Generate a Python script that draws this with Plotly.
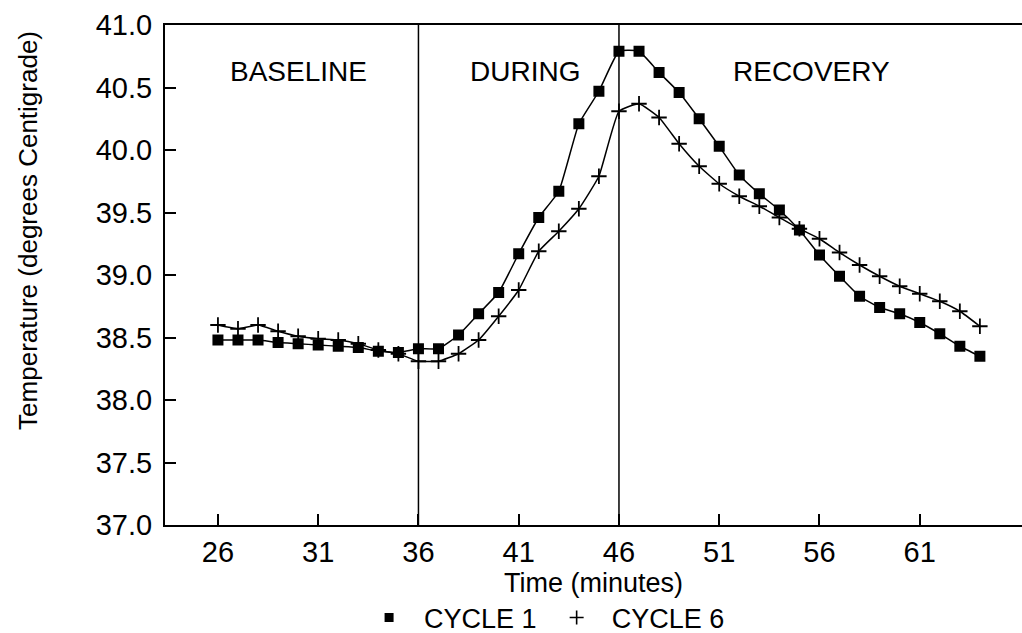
import plotly.graph_objects as go

minutes = list(range(26, 65))
cycle1 = [38.48, 38.48, 38.48, 38.46, 38.45, 38.44, 38.43, 38.42, 38.39, 38.38,
          38.41, 38.41, 38.52, 38.69, 38.86, 39.17, 39.46, 39.67, 40.21, 40.47,
          40.79, 40.79, 40.62, 40.46, 40.25, 40.03, 39.80, 39.65, 39.52, 39.36,
          39.16, 38.99, 38.83, 38.74, 38.69, 38.62, 38.53, 38.43, 38.35]
cycle6 = [38.60, 38.57, 38.60, 38.55, 38.51, 38.49, 38.48, 38.45, 38.40, 38.37,
          38.31, 38.31, 38.37, 38.48, 38.67, 38.88, 39.19, 39.35, 39.53, 39.79,
          40.31, 40.37, 40.26, 40.05, 39.87, 39.73, 39.63, 39.55, 39.46, 39.37,
          39.29, 39.18, 39.08, 38.99, 38.91, 38.85, 38.79, 38.71, 38.59]
phase_bounds = [36, 46]
phase_labels = ["BASELINE", "DURING", "RECOVERY"]
phase_label_x = [30.0, 41.3, 55.6]
x_ticks = [26, 31, 36, 41, 46, 51, 56, 61]
y_ticks = [37.0, 37.5, 38.0, 38.5, 39.0, 39.5, 40.0, 40.5, 41.0]

FONT = "Liberation Sans, Arial, sans-serif"
fig = go.Figure()
fig.add_trace(go.Scatter(x=minutes, y=cycle1, mode="lines+markers", showlegend=False,
                         line=dict(color="black", width=1.5, shape="spline", smoothing=0.4),
                         marker=dict(symbol="square", size=11, color="black")))
fig.add_trace(go.Scatter(x=minutes, y=cycle6, mode="lines+markers", showlegend=False,
                         line=dict(color="black", width=1.5, shape="spline", smoothing=0.4),
                         marker=dict(symbol="cross-thin-open", size=11, color="black",
                                     line=dict(color="black", width=1.8))))
fig.add_trace(go.Scatter(x=[None], y=[None], mode="markers", name="CYCLE 1",
                         marker=dict(symbol="square", size=9, color="black")))
fig.add_trace(go.Scatter(x=[None], y=[None], mode="markers", name="CYCLE 6",
                         marker=dict(symbol="cross-thin-open", size=10, color="black",
                                     line=dict(color="black", width=1.6))))

for b in phase_bounds:
    fig.add_shape(type="line", x0=b, x1=b, y0=37, y1=41, xref="x", yref="y",
                  line=dict(color="black", width=1.5))

for lab, lx in zip(phase_labels, phase_label_x):
    fig.add_annotation(x=lx, y=40.63, xref="x", yref="y", text=lab, showarrow=False,
                       font=dict(size=28, color="black", family=FONT))

fig.add_annotation(x=-0.16, y=0.59, xref="paper", yref="paper", xanchor="center",
                   yanchor="middle", text="Temperature (degrees Centigrade)",
                   textangle=-90, showarrow=False,
                   font=dict(size=26, color="black", family=FONT))

fig.update_layout(
    width=1022, height=633,
    margin=dict(l=165, r=0, t=25, b=108, autoexpand=False),
    paper_bgcolor="white", plot_bgcolor="white",
    font=dict(family=FONT, size=27, color="black"),
    legend=dict(orientation="h", x=0.44, xanchor="center", y=-0.186, yanchor="middle",
                font=dict(size=27), itemwidth=60, tracegroupgap=0,
                bgcolor="rgba(0,0,0,0)"),
    xaxis=dict(range=[23.36, 66.1], tickvals=x_ticks, ticks="inside", ticklen=11,
               tickwidth=1.5, tickcolor="black", showline=True, linecolor="black",
               linewidth=2, mirror=True, showgrid=False, zeroline=False,
               tickfont=dict(size=29), automargin=False,
               title=dict(text="Time (minutes)", standoff=6, font=dict(size=27))),
    yaxis=dict(range=[37, 41], tickvals=y_ticks, tickformat=".1f", ticks="inside",
               ticklen=11, tickwidth=1.5, tickcolor="black", showline=True,
               linecolor="black", linewidth=2, showgrid=False, zeroline=False,
               ticklabelstandoff=5,
               tickfont=dict(size=29), automargin=False),
)
fig.write_html("out.html")
